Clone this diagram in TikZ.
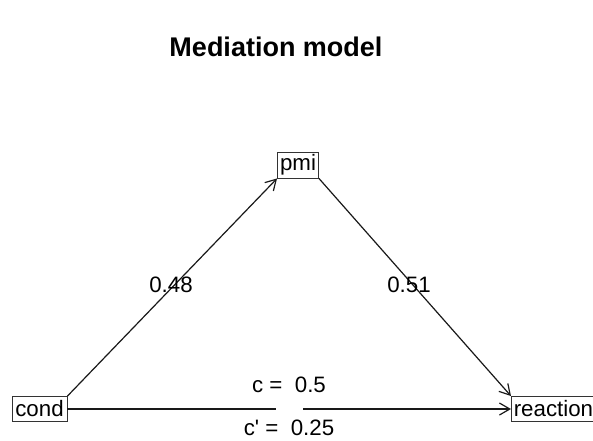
\documentclass[tikz,border=0pt]{standalone}
\usepackage{fontspec}
\setmainfont{Liberation Sans}
\newfontfamily\plainsans{Liberation Sans}[Ligatures=TeXOff]
\usetikzlibrary{arrows.meta}
\begin{document}
\begin{tikzpicture}[x=1pt,y=-1pt,
  lbl/.style={font=\fontsize{22.3}{24}\selectfont, inner sep=0pt},
  varbox/.style={draw=black!80, line width=0.9pt, inner sep=0pt, minimum height=25pt, font=\fontsize{22.3}{24}\selectfont},
  path/.style={line width=1.2pt, draw=black!90},
  arr/.style={path, -{Straight Barb[angle=60:12pt, line width=1.2pt]}}]
\useasboundingbox[fill=white] (0,0) rectangle (593,440);
\node[font=\fontsize{27}{30}\selectfont\bfseries, inner sep=0pt] (title) at (276,47) {Mediation model};
\node[varbox, minimum width=55pt] (cond) at (39.5,409) {cond};
\node[varbox, minimum width=41pt, minimum height=26pt] (pmi) at (298,165) {pmi};
\node[varbox, minimum width=90pt, anchor=west] (reaction) at (511,409) {\hspace*{-6pt}reaction};
\coordinate (g1) at (276,409);
\coordinate (g2) at (303,409);
\draw[arr] (cond.north east) -- (pmi.south west);
\draw[arr] (pmi.south east) -- (reaction.north west);
\draw[path] (cond.east) -- (g1);
\draw[arr] (g2) -- (reaction.west);
\node[lbl] (a) at (171,285) {0.48};
\node[lbl] (b) at (409,285) {0.51};
\node[lbl] (c) at (289,385) {c =\ \ 0.5};
\node[lbl] (cp) at (289,428) {\plainsans c' =\ \ 0.25};
\end{tikzpicture}
\end{document}
